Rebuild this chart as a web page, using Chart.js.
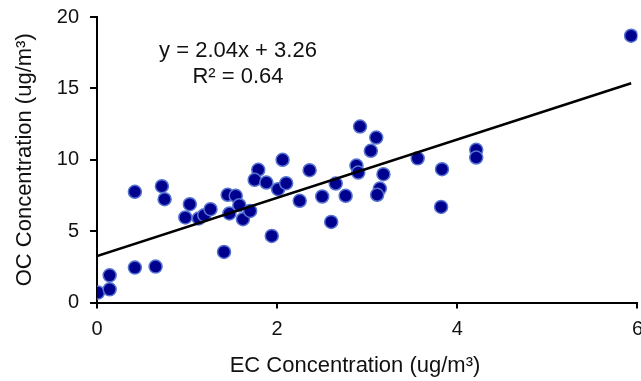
<!DOCTYPE html>
<html>
<head>
<meta charset="utf-8">
<script src="https://cdn.jsdelivr.net/npm/chart.js@4/dist/chart.umd.min.js"></script>
<style>
  html, body { margin: 0; padding: 0; background: #fff; overflow: hidden; width: 641px; height: 381px; }
  canvas { display: block; }
</style>
</head>
<body>
<canvas id="ocec" width="652" height="381"></canvas>
<script>
const ecValues = [0.01, 0.14, 0.14, 0.42, 0.65, 0.42, 0.72, 0.75, 0.98, 1.03, 1.13, 1.19, 1.26, 1.41, 1.45, 1.47,
  1.54, 1.58, 1.62, 1.70, 1.79, 1.75, 1.88, 1.94, 2.01, 2.06, 2.10, 2.25, 2.36, 2.50, 2.60, 2.65, 2.76, 2.88,
  2.90, 3.04, 3.18, 3.14, 3.11, 3.56, 3.83, 3.82, 4.21, 4.21, 2.92, 3.10, 5.93];
const ocValues = [0.70, 0.93, 1.91, 2.45, 2.52, 7.76, 8.15, 7.24, 5.96, 6.89, 5.89, 6.12, 6.54, 3.55, 7.55, 6.24,
  7.48, 6.82, 5.84, 6.42, 9.30, 8.60, 8.41, 4.67, 7.94, 10.00, 8.36, 7.13, 9.27, 7.43, 5.65, 8.34, 7.48, 9.60,
  9.11, 10.63, 8.99, 7.99, 7.55, 10.10, 9.34, 6.70, 10.70, 10.16, 12.33, 11.56, 18.69];
const slope = 2.04;
const intercept = 3.26;
const eqLines = ['y = 2.04x + 3.26', 'R\u00b2 = 0.64'];
const xTitle = 'EC Concentration (ug/m\u00b3)';
const yTitle = 'OC Concentration (ug/m\u00b3)';

const FONT = "'Liberation Sans', Arial, sans-serif";
const points = ecValues.map((x, i) => ({ x, y: ocValues[i] }));
const xEnd = Math.max(...ecValues);
const trend = [{ x: 0, y: intercept }, { x: xEnd, y: slope * xEnd + intercept }];

// equation label, drawn as plain text on the canvas
const eqLabel = {
  id: 'eqLabel',
  afterDraw(chart) {
    const ctx = chart.ctx;
    ctx.save();
    ctx.font = '22px ' + FONT;
    ctx.fillStyle = '#111';
    ctx.textAlign = 'center';
    ctx.textBaseline = 'alphabetic';
    ctx.fillText(eqLines[0], 238, 57);
    ctx.fillText(eqLines[1], 238, 83);
    ctx.restore();
  }
};

const axisCommon = (len) => ({
  grid: { display: true, drawOnChartArea: false, drawTicks: true, tickLength: len, color: '#000', lineWidth: 2 },
  border: { display: true, color: '#000', width: 2 },
});

new Chart(document.getElementById('ocec'), {
  type: 'scatter',
  data: {
    datasets: [
      {
        type: 'line', data: trend, borderColor: '#000', borderWidth: 2.5,
        pointRadius: 0, fill: false, tension: 0,
      },
      {
        data: points, backgroundColor: '#00008f', borderColor: '#5673d0', borderWidth: 1.5,
        pointRadius: 6.5, pointHoverRadius: 6.5,
      },
    ],
  },
  options: {
    responsive: false,
    animation: false,
    devicePixelRatio: 1,
    layout: { padding: { left: 0, right: 0, top: 0, bottom: 0 } },
    plugins: { legend: { display: false }, tooltip: { enabled: false } },
    scales: {
      x: {
        type: 'linear', min: 0, max: 6,
        ...axisCommon(6),
        ticks: { stepSize: 2, color: '#111', padding: 9, font: { family: FONT, size: 20 }, maxRotation: 0 },
        // trailing spaces nudge the centred title a little to the left, as in the original
        title: { display: true, text: xTitle + '    ', color: '#111', font: { family: FONT, size: 22 }, padding: { top: 2, bottom: 2 } },
      },
      y: {
        type: 'linear', min: 0, max: 20,
        ...axisCommon(7),
        ticks: { stepSize: 5, color: '#111', padding: 11, font: { family: FONT, size: 20, lineHeight: 0.6 } },
        title: { display: true, text: yTitle, color: '#111', font: { family: FONT, size: 22 }, padding: { top: 12, bottom: 7.4 } },
      },
    },
  },
  plugins: [eqLabel],
});
</script>
</body>
</html>
